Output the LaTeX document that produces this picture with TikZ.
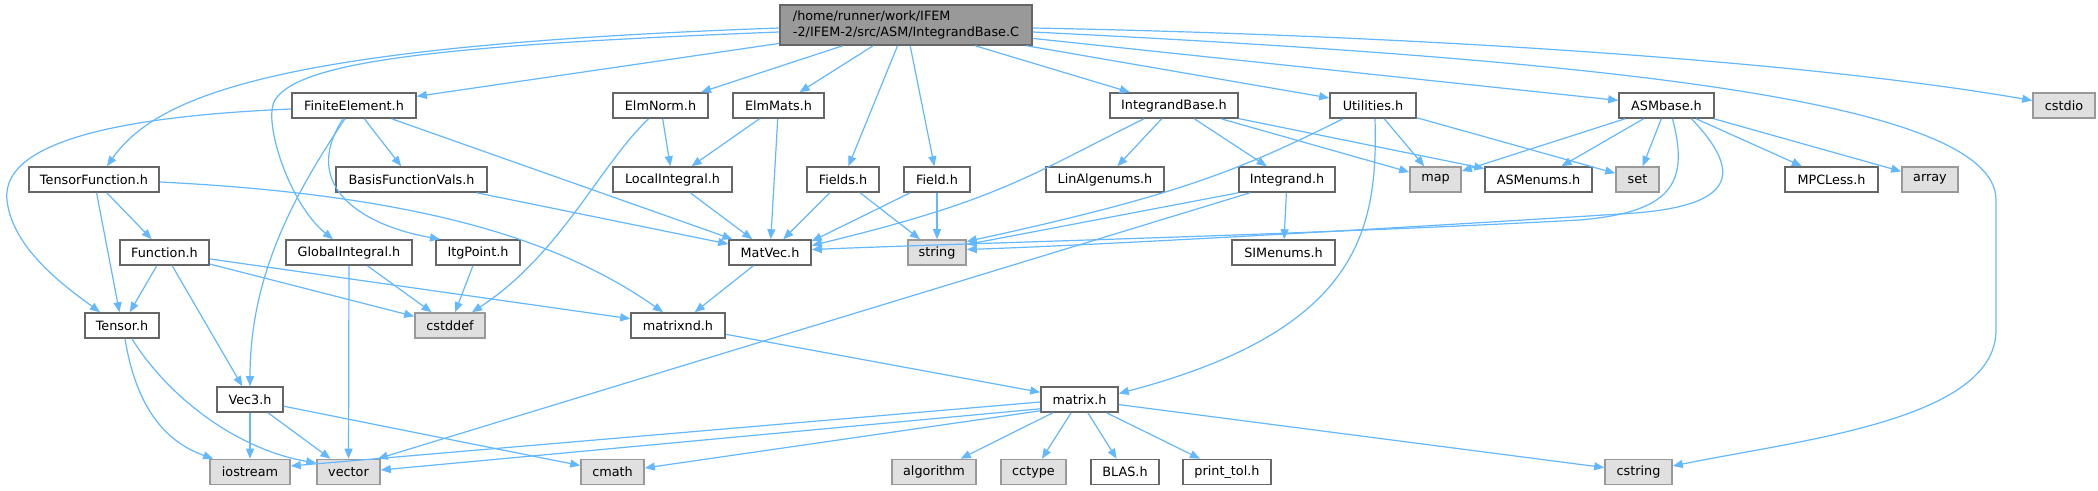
\documentclass[tikz,border=0pt]{standalone}
\usepackage{fontspec}
\setmainfont{DejaVu Sans}
\usetikzlibrary{arrows.meta,calc}
\definecolor{edgec}{HTML}{63B8FF}
\definecolor{bordn}{HTML}{666666}
\definecolor{borde}{HTML}{999999}
\definecolor{fille}{HTML}{E0E0E0}
\definecolor{fillm}{HTML}{999999}
\begin{document}
\begin{tikzpicture}[x=0.5pt,y=-0.5pt,
  nd/.style={draw=bordn,fill=white,line width=0.8pt,minimum height=12.5pt,inner sep=0pt,font=\fontsize{6.4}{8}\selectfont},
  ext/.style={nd,draw=borde,fill=fille},
  mainnd/.style={nd,fill=fillm,minimum height=20pt,align=left},
  e/.style={draw=edgec,line width=0.6pt,-{Triangle[length=5pt,width=4pt]}}]
\fill[white] (0,0) rectangle (2098,491);
\useasboundingbox (0,0) rectangle (2098,491);
% nodes
\node[mainnd,minimum width=126pt] (main) at (906,25) {/home/runner/work/IFEM\\-2/IFEM-2/src/ASM/IntegrandBase.C};
\node[nd,minimum width=62pt] (fe) at (354,105.5) {FiniteElement.h};
\node[nd,minimum width=47.5pt] (elmnorm) at (660.5,105.5) {ElmNorm.h};
\node[nd,minimum width=45.5pt] (elmmats) at (778.5,105.5) {ElmMats.h};
\node[nd,minimum width=64pt] (ib) at (1174,105.5) {IntegrandBase.h};
\node[nd,minimum width=43pt] (util) at (1373,105.5) {Utilities.h};
\node[nd,minimum width=47.5pt] (asmbase) at (1666.5,105.5) {ASMbase.h};
\node[ext,minimum width=31pt] (cstdio) at (2064,105.5) {cstdio};
\node[nd,minimum width=65pt] (tf) at (94,179.5) {TensorFunction.h};
\node[nd,minimum width=75.5pt] (bfv) at (411.5,179.5) {BasisFunctionVals.h};
\node[nd,minimum width=59.5pt] (li) at (672.5,179.5) {LocalIntegral.h};
\node[nd,minimum width=36pt] (fields) at (843,179.5) {Fields.h};
\node[nd,minimum width=33pt] (field) at (937,179.5) {Field.h};
\node[nd,minimum width=59pt] (lae) at (1105,179.5) {LinAlgenums.h};
\node[nd,minimum width=48pt] (integrand) at (1287,179.5) {Integrand.h};
\node[ext,minimum width=25.5pt] (map) at (1435.5,179.5) {map};
\node[nd,minimum width=53.5pt] (asmenums) at (1538.5,179.5) {ASMenums.h};
\node[ext,minimum width=21.5pt] (set) at (1637.5,179.5) {set};
\node[nd,minimum width=46.5pt] (mpc) at (1831.5,179.5) {MPCLess.h};
\node[ext,minimum width=28pt] (array) at (1930,179.5) {array};
\node[nd,minimum width=44.5pt] (function) at (164.5,252.5) {Function.h};
\node[nd,minimum width=63pt] (gi) at (349,252.5) {GlobalIntegral.h};
\node[nd,minimum width=42pt] (itg) at (478,252.5) {ItgPoint.h};
\node[nd,minimum width=41pt] (matvec) at (770,252.5) {MatVec.h};
\node[ext,minimum width=29pt] (string) at (937,252.5) {string};
\node[nd,minimum width=51.5pt] (sim) at (1283.5,252.5) {SIMenums.h};
\node[nd,minimum width=37pt] (tensor) at (122,325.5) {Tensor.h};
\node[ext,minimum width=35pt] (cstddef) at (450,325.5) {cstddef};
\node[nd,minimum width=47pt] (matrixnd) at (678,325.5) {matrixnd.h};
\node[nd,minimum width=33pt] (vec3) at (250,399.5) {Vec3.h};
\node[nd,minimum width=38.5pt] (matrix) at (1079.5,399.5) {matrix.h};
\node[ext,minimum width=40pt] (iostream) at (250,472) {iostream};
\node[ext,minimum width=31.5pt] (vector) at (348.5,472) {vector};
\node[ext,minimum width=31.5pt] (cmath) at (612.5,472) {cmath};
\node[ext,minimum width=42pt] (algorithm) at (934,472) {algorithm};
\node[ext,minimum width=32.5pt] (cctype) at (1033.5,472) {cctype};
\node[nd,minimum width=34pt] (blas) at (1125,472) {BLAS.h};
\node[nd,minimum width=44pt] (printtol) at (1227,472) {print\_tol.h};
\node[ext,minimum width=33.5pt] (cstring) at (1638.5,472) {cstring};
% edges from main
\draw[e] ($(main.west)+(0,3)$) .. controls (300,45) and (160,90) .. ($(tf.north)+(13,0)$);
\draw[e] ($(main.west)+(0,7)$) .. controls (450,45) and (300,60) .. (275,100) .. controls (262,121) and (290,205) .. ($(gi.north)+(-16,0)$);
\draw[e] (main) -- (fe);
\draw[e] (main) -- (elmnorm);
\draw[e] (main) -- (elmmats);
\draw[e] (main) -- (fields);
\draw[e] (main) -- (field);
\draw[e] (main) -- (ib);
\draw[e] (main) -- (util);
\draw[e] (main) -- (asmbase);
\draw[e] ($(main.east)+(0,3)$) .. controls (1400,35) and (1800,60) .. ($(cstdio.west)+(0,-5)$);
\draw[e] ($(main.east)+(0,7)$) .. controls (1600,60) and (1996,100) .. (1996,200) -- (1996,330) .. controls (1996,420) and (1800,440) .. ($(cstring.east)+(0,-6)$);
% FiniteElement
\draw[e] ($(fe.west)+(0,3.5)$) .. controls (150,115) and (0,135) .. (7,200) .. controls (12,250) and (70,290) .. ($(tensor.north)+(-22,0)$);
\draw[e] (fe) -- (bfv);
\draw[e] (fe) -- (matvec);
\draw[e] ($(fe.south)+(-9,0)$) .. controls (290,200) and (250,280) .. (vec3.north);
\draw[e] ($(fe.south)+(-11,0)$) .. controls (300,185) and (360,225) .. ($(itg.north)+(-38,0)$);
% TensorFunction
\draw[e] (tf) -- (function);
\draw[e] (tf) -- (tensor);
\draw[e] ($(tf.east)+(0,2.5)$) .. controls (420,195) and (560,240) .. ($(matrixnd.north)+(-15,0)$);
% Function
\draw[e] (function) -- (tensor);
\draw[e] (function) -- (vec3);
\draw[e] (function) -- (cstddef);
\draw[e] (function) -- (matrixnd);
% GlobalIntegral, ItgPoint
\draw[e] (gi) -- (vector);
\draw[e] (gi) -- (cstddef);
\draw[e] (itg) -- (cstddef);
% ElmNorm, ElmMats, LocalIntegral
\draw[e] (elmnorm) -- (li);
\draw[e] ($(elmnorm.south)+(-12,0)$) .. controls (600,165) and (560,255) .. ($(cstddef.north)+(22,0)$);
\draw[e] (elmmats) -- (li);
\draw[e] (elmmats) -- (matvec);
\draw[e] (li) -- (matvec);
\draw[e] (bfv) -- (matvec);
% Fields, Field
\draw[e] (fields) -- (matvec);
\draw[e] (fields) -- (string);
\draw[e] (field) -- ($(matvec.north east)+(0,2)$);
\draw[e] (field) -- (string);
% IntegrandBase
\draw[e] ($(ib.south)+(-30,0)$) .. controls (1030,175) and (1000,200) .. ($(matvec.east)+(0,-7)$);
\draw[e] (ib) -- (lae);
\draw[e] (ib) -- (integrand);
\draw[e] (ib) -- (map);
\draw[e] (ib) -- (asmenums);
% Utilities
\draw[e] ($(util.south)+(-30,0)$) .. controls (1240,170) and (1180,195) .. ($(string.east)+(0,-11)$);
\draw[e] (util) -- (map);
\draw[e] (util) -- (set);
\draw[e] ($(util.south)+(2,0)$) .. controls (1378,230) and (1360,330) .. ($(matrix.east)+(0,-6)$);
% Integrand
\draw[e] (integrand.south west) -- ($(string.east)+(0,-8)$);
\draw[e] (integrand) -- (sim);
\draw[e] ($(integrand.south)+(-37,0)$) -- ($(vector.north east)+(-3,0)$);
% ASMbase
\draw[e] (asmbase) -- (map);
\draw[e] (asmbase) -- (asmenums);
\draw[e] (asmbase) -- (set);
\draw[e] (asmbase) -- (mpc);
\draw[e] (asmbase) -- (array);
\draw[e] ($(asmbase.south)+(6,0)$) .. controls (1690,185) and (1670,212) .. (1580,220) .. controls (1300,235) and (1000,242) .. ($(matvec.east)+(0,-3)$);
\draw[e] ($(asmbase.south)+(25,0)$) .. controls (1745,175) and (1735,208) .. (1620,214) .. controls (1400,228) and (1100,245) .. ($(string.east)+(0,-3)$);
% lower part
\draw[e] (matvec) -- (matrixnd);
\draw[e] (matrixnd) -- (matrix);
\draw[e] (vec3) -- (iostream);
\draw[e] (vec3) -- (vector);
\draw[e] (vec3) -- (cmath);
\draw[e] ($(tensor.south)+(3,0)$) .. controls (135,400) and (160,440) .. ($(iostream.north west)+(4,0)$);
\draw[e] ($(tensor.south)+(10,0)$) .. controls (170,400) and (240,450) .. ($(vector.west)+(0,-9)$);
\draw[e] ($(matrix.west)+(0,2.5)$) -- ($(iostream.east)+(0,-6)$);
\draw[e] ($(matrix.south west)+(0,-4)$) -- ($(vector.east)+(0,-2)$);
\draw[e] ($(matrix.south west)+(0,-2)$) -- ($(cmath.east)+(0,-4)$);
\draw[e] (matrix) -- (algorithm);
\draw[e] (matrix) -- (cctype);
\draw[e] (matrix) -- (blas);
\draw[e] (matrix) -- (printtol);
\draw[e] (matrix) -- (cstring);
\end{tikzpicture}
\end{document}
